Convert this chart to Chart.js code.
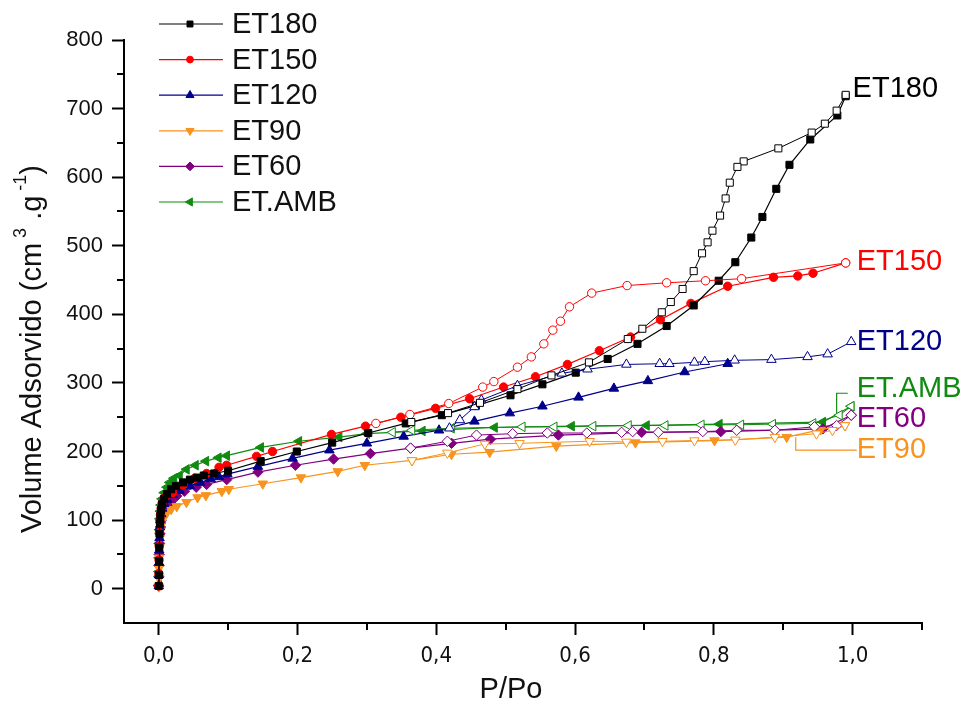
<!DOCTYPE html>
<html>
<head>
<meta charset="utf-8">
<script src="https://cdn.jsdelivr.net/npm/chart.js@4.4.0/dist/chart.umd.min.js"></script>
<style>
  html, body { margin: 0; padding: 0; background: #fff; }
  #wrap { width: 966px; height: 711px; }
</style>
</head>
<body>
<div id="wrap"><canvas id="isoChart" width="966" height="711"></canvas></div>
<script>
// N2 isotherms, [P/Po, volume] pairs. Adsorption branch = filled markers, desorption = open.
const et180Ads = [[0.0001,4],[0.0003,20],[0.0005,40],[0.0008,60],[0.0012,80],[0.0018,95],[0.0025,106],[0.0035,115],[0.005,123],[0.008,131],[0.012,138],[0.018,145],[0.025,150],[0.035,155],[0.045,159],[0.055,162],[0.065,165],[0.08,168],[0.1,172],[0.147,186],[0.199,200],[0.25,213],[0.302,227],[0.356,241],[0.408,253],[0.457,267],[0.507,282],[0.553,298],[0.601,315],[0.647,335],[0.69,357],[0.732,383],[0.771,413],[0.807,449],[0.831,476],[0.854,512],[0.87,542],[0.89,583],[0.909,618],[0.939,655],[0.978,690],[0.99,718]];
const et180Des = [[0.99,720],[0.977,697],[0.96,678],[0.941,665],[0.893,642],[0.843,623],[0.834,615],[0.823,592],[0.817,569],[0.809,544],[0.798,522],[0.791,505],[0.783,489],[0.771,463],[0.755,437],[0.738,418],[0.725,403],[0.697,379],[0.676,364],[0.62,330],[0.566,311],[0.517,291],[0.463,271],[0.417,256],[0.364,243]];

const et150Ads = [[0.0001,4],[0.0003,22],[0.0005,42],[0.0008,62],[0.0012,82],[0.0018,98],[0.0025,108],[0.0035,117],[0.005,125],[0.008,132],[0.012,136],[0.02,140],[0.035,151],[0.052,161],[0.069,168],[0.087,177],[0.098,180],[0.141,193],[0.164,200],[0.249,225],[0.298,237],[0.349,250],[0.399,263],[0.448,277],[0.497,294],[0.543,309],[0.589,327],[0.635,347],[0.68,367],[0.723,392],[0.767,416],[0.82,441],[0.886,454],[0.921,456],[0.943,460],[0.99,475]];
const et150Des = [[0.99,475],[0.84,452],[0.788,449],[0.732,446],[0.675,442],[0.624,431],[0.592,411],[0.579,390],[0.568,377],[0.555,357],[0.537,338],[0.517,323],[0.483,302],[0.467,294],[0.418,270],[0.362,254],[0.313,241]];

const et120Ads = [[0.0001,4],[0.0003,20],[0.0005,38],[0.0008,56],[0.0012,74],[0.0018,90],[0.0025,100],[0.0035,109],[0.005,117],[0.008,124],[0.012,130],[0.02,137],[0.03,143],[0.045,150],[0.06,155],[0.075,160],[0.087,163],[0.099,167],[0.143,178],[0.193,190],[0.246,202],[0.3,212],[0.353,222],[0.404,231],[0.455,244],[0.506,256],[0.553,266],[0.605,279],[0.656,292],[0.705,303],[0.758,316],[0.82,328]];
const et120Des = [[0.998,360],[0.964,342],[0.935,338],[0.883,334],[0.83,333],[0.787,331],[0.772,330],[0.736,328],[0.722,328],[0.674,327],[0.618,320],[0.581,314],[0.517,296],[0.465,275],[0.455,265],[0.434,246],[0.419,234]];

const et90Ads = [[0.0001,3],[0.0003,15],[0.0005,30],[0.0008,45],[0.0012,60],[0.0018,74],[0.0025,84],[0.0035,92],[0.005,99],[0.008,106],[0.012,111],[0.018,116],[0.026,120],[0.04,126],[0.056,133],[0.068,136],[0.091,142],[0.101,145],[0.15,153],[0.205,162],[0.258,171],[0.297,180],[0.365,187],[0.422,196],[0.477,199],[0.573,208],[0.687,213],[0.801,216],[0.905,221],[0.954,232],[0.989,238]];
const et90Des = [[0.989,238],[0.971,231],[0.948,226],[0.888,221],[0.831,217],[0.772,216],[0.726,215],[0.674,214],[0.621,215],[0.52,212],[0.47,211],[0.416,198],[0.365,187]];

const et60Ads = [[0.0001,4],[0.0003,18],[0.0005,34],[0.0008,50],[0.0012,66],[0.0018,80],[0.0025,90],[0.0035,99],[0.005,107],[0.008,115],[0.012,121],[0.018,127],[0.026,135],[0.037,142],[0.054,148],[0.069,152],[0.098,159],[0.143,170],[0.197,180],[0.252,189],[0.305,197],[0.363,205],[0.422,212],[0.478,218],[0.576,224],[0.696,228],[0.81,229],[0.957,233],[0.998,253]];
const et60Des = [[0.998,253],[0.977,238],[0.945,236],[0.888,231],[0.833,231],[0.784,229],[0.72,228],[0.683,229],[0.667,228],[0.617,227],[0.56,227],[0.51,226],[0.458,224],[0.416,215],[0.363,205]];

const etAmbAds = [[0.0001,5],[0.0003,25],[0.0005,45],[0.0008,66],[0.0012,86],[0.0018,102],[0.0025,113],[0.0035,122],[0.005,131],[0.008,140],[0.012,148],[0.016,155],[0.022,161],[0.03,165],[0.04,174],[0.053,180],[0.068,186],[0.086,191],[0.098,194],[0.147,206],[0.202,215],[0.26,221],[0.3,226],[0.38,230],[0.484,235],[0.595,237],[0.703,238],[0.808,240],[0.957,243],[0.998,266]];
const etAmbDes = [[0.998,266],[0.981,253],[0.943,241],[0.885,240],[0.839,239],[0.782,239],[0.73,238],[0.677,238],[0.626,237],[0.57,236],[0.524,236],[0.422,234],[0.365,231],[0.337,228]];

const sampleNames = ["ET180", "ET150", "ET120", "ET90", "ET60", "ET.AMB"];
const xTicks = [0, 0.2, 0.4, 0.6, 0.8, 1.0];
const xMinorTicks = [0.1, 0.3, 0.5, 0.7, 0.9, 1.1];
const yTicks = [0, 100, 200, 300, 400, 500, 600, 700, 800];
const yMinorTicks = [50, 150, 250, 350, 450, 550, 650, 750];

// where each curve's name sits at the right end, in data units [P/Po, volume]
const endLabelPos = [[1.0, 729], [1.006, 477], [1.006, 360], [1.006, 202], [1.006, 248], [1.006, 291]];

const series = [
  { ads: et180Ads, des: et180Des, color: "#000000", style: "rect", rot: 0, r: 5 },
  { ads: et150Ads, des: et150Des, color: "#ff0000", style: "circle", rot: 0, r: 4.2 },
  { ads: et120Ads, des: et120Des, color: "#00008b", style: "triangle", rot: 0, r: 5.5 },
  { ads: et90Ads, des: et90Des, color: "#f7931e", style: "triangle", rot: 180, r: 5.5 },
  { ads: et60Ads, des: et60Des, color: "#800080", style: "rectRot", rot: 0, r: 5.2 },
  { ads: etAmbAds, des: etAmbDes, color: "#108a10", style: "triangle", rot: -90, r: 5.5 },
];

const toXY = arr => arr.map(([x, y]) => ({ x, y }));

const datasets = [];
series.forEach((s, i) => {
  datasets.push({
    label: sampleNames[i],
    data: toXY(s.ads),
    showLine: true,
    borderColor: s.color,
    borderWidth: 1.2,
    pointStyle: s.style,
    pointRotation: s.rot,
    pointRadius: s.r,
    pointBorderWidth: 1,
    pointBorderColor: s.color,
    pointBackgroundColor: s.color,
    order: 1,
  });
  datasets.push({
    label: sampleNames[i] + " des",
    data: toXY(s.des),
    showLine: true,
    borderColor: s.color,
    borderWidth: 1,
    pointStyle: s.style,
    pointRotation: s.rot,
    pointRadius: s.r,
    pointBorderWidth: 1,
    pointBorderColor: s.color,
    pointBackgroundColor: "#ffffff",
    order: 0,
  });
});

const sansFont = "'Liberation Sans', Arial, sans-serif";

// minor ticks, legend box, curve labels, axis titles
const decorPlugin = {
  id: "isoDecor",
  afterDraw(chart) {
    const { ctx, chartArea } = chart;
    const xs = chart.scales.x, ys = chart.scales.y;
    ctx.save();

    ctx.strokeStyle = "#000";
    ctx.lineWidth = 2;
    xMinorTicks.forEach(v => {
      const px = Math.round(xs.getPixelForValue(v));
      ctx.beginPath();
      ctx.moveTo(px, chartArea.bottom);
      ctx.lineTo(px, chartArea.bottom + 7);
      ctx.stroke();
    });
    yMinorTicks.forEach(v => {
      const py = Math.round(ys.getPixelForValue(v));
      ctx.beginPath();
      ctx.moveTo(chartArea.left, py);
      ctx.lineTo(chartArea.left - 7, py);
      ctx.stroke();
    });

    // legend
    ctx.font = "29px " + sansFont;
    ctx.textBaseline = "middle";
    ctx.textAlign = "left";
    series.forEach((s, i) => {
      const y = 24 + i * 35.6;
      ctx.strokeStyle = s.color;
      ctx.lineWidth = 1.2;
      ctx.beginPath();
      ctx.moveTo(159, y);
      ctx.lineTo(223, y);
      ctx.stroke();
      ctx.fillStyle = s.color;
      ctx.strokeStyle = s.color;
      ctx.lineWidth = 1;
      Chart.helpers.drawPoint(ctx, { pointStyle: s.style, rotation: s.rot, radius: s.r - 0.8, borderWidth: 1 }, 190, y);
      ctx.fillStyle = "#111";
      ctx.fillText(sampleNames[i], 232, y + 1);
    });

    // curve end labels
    series.forEach((s, i) => {
      const [lx, ly] = endLabelPos[i];
      ctx.fillStyle = s.color;
      ctx.fillText(sampleNames[i], xs.getPixelForValue(lx), ys.getPixelForValue(ly));
    });

    // leader lines for the crowded labels (ET.AMB, ET90)
    ctx.lineWidth = 1.2;
    ctx.strokeStyle = series[5].color;
    ctx.beginPath();
    ctx.moveTo(xs.getPixelForValue(0.977), ys.getPixelForValue(256));
    ctx.lineTo(xs.getPixelForValue(0.977), ys.getPixelForValue(285));
    ctx.lineTo(xs.getPixelForValue(0.993), ys.getPixelForValue(285));
    ctx.stroke();
    ctx.strokeStyle = series[3].color;
    ctx.beginPath();
    ctx.moveTo(xs.getPixelForValue(0.918), ys.getPixelForValue(221));
    ctx.lineTo(xs.getPixelForValue(0.918), ys.getPixelForValue(202));
    ctx.lineTo(xs.getPixelForValue(1.006), ys.getPixelForValue(202));
    ctx.stroke();

    // x title
    ctx.fillStyle = "#111";
    ctx.textAlign = "center";
    ctx.font = "29px " + sansFont;
    ctx.fillText("P/Po", 511, 690);

    // y title with superscripts
    const parts = [
      ["Volume Adsorvido (cm", false],
      [" 3", true],
      [" .g", false],
      [" -1", true],
      [")", false],
    ];
    const big = "29px " + sansFont, small = "18px " + sansFont;
    let total = 0;
    parts.forEach(([t, sup]) => { ctx.font = sup ? small : big; total += ctx.measureText(t).width; });
    ctx.translate(33, 349);
    ctx.rotate(-Math.PI / 2);
    ctx.textAlign = "left";
    let cx = -total / 2;
    parts.forEach(([t, sup]) => {
      ctx.font = sup ? small : big;
      ctx.fillText(t, cx, sup ? -12 : 0);
      cx += ctx.measureText(t).width;
    });
    ctx.restore();
  },
};

new Chart(document.getElementById("isoChart"), {
  type: "scatter",
  data: { datasets },
  options: {
    responsive: false,
    animation: false,
    events: [],
    layout: { padding: { left: 0, top: 40, right: 44, bottom: 0 } },
    elements: { line: { tension: 0 } },
    plugins: { legend: { display: false }, tooltip: { enabled: false } },
    scales: {
      x: {
        type: "linear",
        min: -0.05,
        max: 1.1,
        afterBuildTicks: s => { s.ticks = xTicks.map(v => ({ value: v })); },
        afterFit: s => { s.height = 88; },
        ticks: {
          autoSkip: false,
          maxRotation: 0,
          padding: 8,
          color: "#111",
          font: { family: "'Liberation Sans Narrow', 'Arial Narrow', 'DejaVu Sans Condensed', sans-serif", size: 22 },
          callback: v => v.toFixed(1).replace(".", ","),
        },
        grid: { drawOnChartArea: false, drawTicks: true, tickLength: 12, tickWidth: 2, tickColor: "#000" },
        border: { display: true, color: "#000", width: 2 },
      },
      y: {
        type: "linear",
        min: -50,
        max: 800,
        afterBuildTicks: s => { s.ticks = yTicks.map(v => ({ value: v })); },
        afterFit: s => { s.width = 124; },
        ticks: {
          autoSkip: false,
          padding: 9,
          color: "#111",
          font: { family: sansFont, size: 22 },
        },
        grid: { drawOnChartArea: false, drawTicks: true, tickLength: 12, tickWidth: 2, tickColor: "#000" },
        border: { display: true, color: "#000", width: 2 },
      },
    },
  },
  plugins: [decorPlugin],
});
</script>
</body>
</html>
